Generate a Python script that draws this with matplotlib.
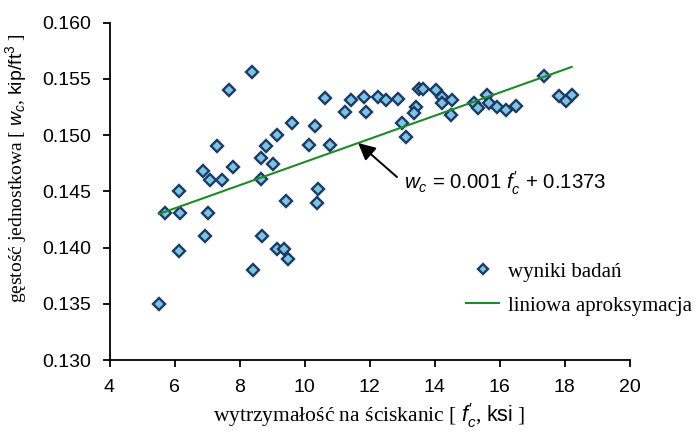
import numpy as np
import matplotlib
matplotlib.use("Agg")
import matplotlib.pyplot as plt

# Compressive strength f'c [ksi] and unit weight wc [kip/ft^3] of the test specimens
fc = [5.52, 5.70, 6.13, 6.16, 6.13, 6.93, 7.02, 6.87, 7.08, 7.30,
      7.45, 7.67, 7.79, 8.37, 8.43, 8.65, 8.80, 8.65, 9.02, 9.14,
      9.63, 8.68, 9.14, 9.38, 9.48, 9.44, 10.64, 11.44, 11.84, 12.27,
      12.51, 12.88, 11.25, 11.90, 10.33, 10.15, 10.77, 10.43, 10.37, 13.52,
      13.65, 14.05, 14.23, 14.54, 14.23, 13.43, 13.37, 13.00, 13.13, 14.51,
      15.21, 15.33, 15.61, 15.67, 15.92, 16.20, 16.50, 17.36, 17.82, 18.04,
      18.22]
wc = [0.1350, 0.1431, 0.1450, 0.1431, 0.1397, 0.1410, 0.1431, 0.1468, 0.1460, 0.1490,
      0.1460, 0.1540, 0.1472, 0.1556, 0.1380, 0.1480, 0.1490, 0.1461, 0.1474, 0.1500,
      0.1511, 0.1410, 0.1399, 0.1399, 0.1390, 0.1441, 0.1533, 0.1531, 0.1534, 0.1534,
      0.1531, 0.1532, 0.1521, 0.1521, 0.1508, 0.1491, 0.1491, 0.1452, 0.1440, 0.1541,
      0.1541, 0.1540, 0.1534, 0.1531, 0.1529, 0.1525, 0.1520, 0.1511, 0.1498, 0.1518,
      0.1529, 0.1524, 0.1536, 0.1529, 0.1525, 0.1522, 0.1526, 0.1553, 0.1535, 0.1530,
      0.1536]

# Linear approximation wc = a * f'c + b
slope = 0.00103
intercept = 0.1373
arrow_fc = 11.65

x_ticks = [4, 6, 8, 10, 12, 14, 16, 18, 20]
y_ticks = [0.130, 0.135, 0.140, 0.145, 0.150, 0.155, 0.160]

plt.rcParams["mathtext.fontset"] = "custom"
plt.rcParams["mathtext.rm"] = "Liberation Sans"
plt.rcParams["mathtext.it"] = "Liberation Sans:italic"
plt.rcParams["mathtext.bf"] = "Liberation Sans:bold"

fig = plt.figure(figsize=(6.97, 4.32), dpi=100)
ax = fig.add_axes([109.5 / 697, 1 - 360 / 432, (629.5 - 109.5) / 697, (360 - 22.7) / 432])

ax.plot(fc, wc, linestyle="none", marker="D", markersize=6.6,
        markerfacecolor="#7cc4e2", markeredgecolor="#1b3a66", markeredgewidth=1.7,
        label="wyniki badań", zorder=2)

fx = np.array([min(fc), max(fc)])
ax.plot(fx, slope * fx + intercept, color="#1f8a2a", linewidth=1.5,
        label="liniowa aproksymacja", zorder=3)

eq = r"$w_c$ = " + f"{slope:.3f}" + r" $f_c^{\prime}$ + " + f"{intercept:.4f}"
ax.annotate(eq, xy=(arrow_fc, slope * arrow_fc + intercept), xytext=(13.06, 0.14573),
            fontsize=14.7, family="Liberation Sans", ha="left", va="center",
            arrowprops=dict(arrowstyle="-|>,head_length=0.7,head_width=0.35", color="black",
                            linewidth=1.4, relpos=(0, 0.5), shrinkA=4, shrinkB=0))

ax.set_xlim(4, 20)
ax.set_ylim(0.130, 0.160)
ax.set_xticks(x_ticks)
ax.set_yticks(y_ticks)
ax.set_xticklabels([str(t) for t in x_ticks])
ax.set_yticklabels([f"{t:.3f}" for t in y_ticks])
for lab in ax.get_xticklabels() + ax.get_yticklabels():
    lab.set_fontfamily("Liberation Sans")
    lab.set_fontsize(14)

for s in ["top", "right"]:
    ax.spines[s].set_visible(False)
for s in ["left", "bottom"]:
    ax.spines[s].set_linewidth(1.3)
ax.tick_params(direction="out", length=5, width=1.3)
ax.tick_params(axis="x", pad=9)
ax.tick_params(axis="y", pad=8)

ax.set_xlabel(r"wytrzymałość na ściskanic [ $f_c^{\prime}$, $\mathrm{ksi}$ ]",
              family="Liberation Serif", fontsize=15.5)
ax.xaxis.set_label_coords(0.5, -0.122)
ax.set_ylabel(r"gęstość jednostkowa [ $w_c$, $\mathrm{kip/ft}^3$ ]",
              family="Liberation Serif", fontsize=14)
ax.yaxis.set_label_coords(-0.155, 0.57)

leg = ax.legend(loc="upper left", bbox_to_anchor=(466 / 697, 1 - 262 / 432),
                bbox_transform=fig.transFigure, frameon=False,
                prop={"family": "Liberation Serif", "size": 15},
                handlelength=1.6, handletextpad=0.4, labelspacing=0.7,
                borderaxespad=0, borderpad=0, markerscale=0.8)

fig.savefig("out.png", dpi=100)
